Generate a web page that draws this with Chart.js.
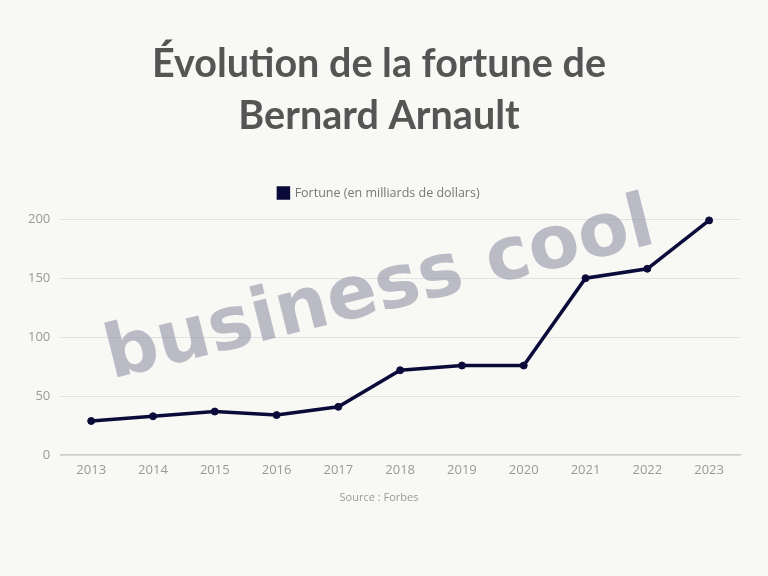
<!DOCTYPE html>
<html>
<head>
<meta charset="utf-8">
<script src="https://cdn.jsdelivr.net/npm/chart.js@4"></script>
<style>
  html, body { margin: 0; padding: 0; background: #f8f8f5; }
  #wrap { width: 768px; height: 576px; position: relative; }
</style>
</head>
<body>
<div id="wrap"><canvas id="myChart" width="768" height="576"></canvas></div>
<script>
/* data */
const years = ['2013', '2014', '2015', '2016', '2017', '2018', '2019', '2020', '2021', '2022', '2023'];
const fortune = [29, 33, 37, 34, 41, 72, 76, 76, 150, 158, 199];
const yTicks = [0, 50, 100, 150, 200];

const navy = '#0b0b3a';

// watermark drawn over the plot
const watermark = {
  id: 'watermark',
  afterDraw: function (chart) {
    const c = chart.ctx;
    c.save();
    c.translate(380, 292);
    c.rotate(-14 * Math.PI / 180);
    c.font = 'bold 74px "DejaVu Sans"';
    c.fillStyle = 'rgba(150, 150, 170, 0.62)';
    c.textAlign = 'center';
    c.textBaseline = 'middle';
    c.fillText('business cool', 0, 0);
    c.restore();
  }
};

// a bit more room under the legend
const legendGap = {
  id: 'legendGap',
  beforeInit: function (chart) {
    const fit = chart.legend.fit;
    chart.legend.fit = function () {
      fit.bind(chart.legend)();
      this.height += 10;
    };
  }
};

var ctx = document.getElementById('myChart').getContext('2d');
new Chart(ctx, {
  type: 'line',
  data: {
    labels: years,
    datasets: [
      {
        label: 'Fortune (en milliards de dollars)',
        data: fortune,
        borderColor: navy,
        backgroundColor: navy,
        borderWidth: 3.5,
        pointRadius: 3.5,
        pointBorderWidth: 1,
        pointBackgroundColor: navy,
        tension: 0,
        clip: false,
      },
    ],
  },
  options: {
    responsive: false,
    animation: false,
    layout: { padding: { left: 18, right: 28, top: 39, bottom: 72 } },
    plugins: {
      title: {
        display: true,
        text: ['Évolution de la fortune de', 'Bernard Arnault'],
        color: '#555555',
        font: { family: 'Lato', size: 39.5, weight: 'bold', lineHeight: 1.3 },
        padding: { top: 0, bottom: 15 },
      },
      legend: {
        labels: {
          boxWidth: 10,
          boxHeight: 10,
          color: '#777777',
          font: { family: 'Open Sans', size: 12.5 },
          padding: 30,
        },
      },
      subtitle: {
        display: true,
        position: 'bottom',
        text: 'Source : Forbes',
        color: '#999999',
        font: { family: 'Open Sans', size: 11 },
        padding: { top: 6 },
      },
      tooltip: { enabled: false },
    },
    scales: {
      x: {
        offset: true,
        grid: { display: false, drawTicks: false },
        border: { color: '#cfcfcf', width: 1.5 },
        ticks: { color: '#999999', padding: 7, font: { family: 'Open Sans', size: 13 } },
      },
      y: {
        min: 0,
        max: 200,
        afterBuildTicks: function (axis) {
          axis.ticks = yTicks.map(function (v) { return { value: v }; });
        },
        grid: { color: '#e2e2e2', drawTicks: false },
        border: { display: false },
        ticks: { color: '#999999', padding: 10, font: { family: 'Open Sans', size: 13 } },
      },
    },
  },
  plugins: [watermark, legendGap],
});
</script>
</body>
</html>
